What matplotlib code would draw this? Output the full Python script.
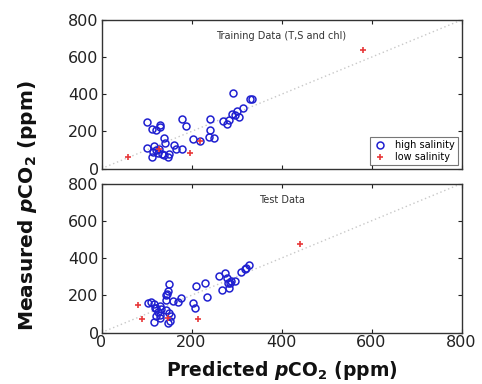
import matplotlib
matplotlib.use("Agg")
import matplotlib.pyplot as plt

# ---- data ----
train_high_x = [101, 112, 122, 129, 131, 179, 187, 138, 140, 100, 116, 112, 114, 128, 134,
                139, 148, 151, 162, 166, 179, 203, 218, 241, 241, 238, 249, 269, 278, 284,
                293, 291, 302, 306, 315, 330, 334, 122, 126, 297]
train_high_y = [252, 211, 209, 236, 223, 268, 228, 163, 140, 110, 119, 62, 88, 106, 79,
                74, 60, 79, 128, 106, 106, 160, 151, 268, 208, 169, 162, 256, 241, 259,
                405, 295, 308, 278, 326, 373, 375, 101, 82, 286]
train_low_x = [59, 127, 197, 218, 581]
train_low_y = [62, 103, 83, 151, 641]

test_high_x = [151, 148, 146, 143, 104, 111, 116, 122, 129, 133, 126, 120, 116, 129, 143,
               151, 155, 153, 159, 170, 177, 204, 207, 209, 229, 235, 260, 274, 268, 280,
               284, 288, 297, 310, 321, 328, 148, 131, 118, 278, 286, 319, 143]
test_high_y = [261, 222, 209, 177, 159, 163, 154, 133, 141, 124, 109, 88, 55, 79, 120,
               106, 88, 64, 168, 163, 186, 159, 133, 252, 267, 190, 306, 320, 231, 267,
               240, 276, 276, 324, 347, 365, 50, 95, 131, 292, 265, 341, 203]
test_low_x = [81, 89, 148, 214, 440]
test_low_y = [150, 74, 77, 74, 477]

ticks = [0, 200, 400, 600, 800]
panel_titles = ["Training Data (T,S and chl)", "Test Data"]

plt.rcParams['font.family'] = ['DejaVu Sans']
plt.rcParams['mathtext.fontset'] = 'dejavusans'

fig = plt.figure(figsize=(4.82, 3.84), dpi=100)
ax1 = fig.add_axes([0.2106, 0.561, 0.747, 0.387])
ax2 = fig.add_axes([0.2106, 0.134, 0.747, 0.388])

datasets = [(ax1, train_high_x, train_high_y, train_low_x, train_low_y, panel_titles[0]),
            (ax2, test_high_x, test_high_y, test_low_x, test_low_y, panel_titles[1])]

for ax, hx, hy, lx, ly, title in datasets:
    ax.plot([0, 800], [0, 800], linestyle=(0, (1, 2)), color='#c8c8c8', lw=1, zorder=1)
    ax.plot(hx, hy, linestyle='none', marker='o', markersize=5, markerfacecolor='none',
            markeredgecolor='#2020d0', markeredgewidth=1.1, label='high salinity', zorder=3)
    ax.plot(lx, ly, linestyle='none', marker='+', markersize=5, color='#e8383a',
            markeredgewidth=1.2, label='low salinity', zorder=4)
    ax.set_xlim(0, 800)
    ax.set_ylim(0, 800)
    ax.set_xticks(ticks)
    ax.set_yticks(ticks)
    ax.tick_params(direction='in', top=True, right=True, length=3, width=0.8,
                   labelsize=11.5, colors='#222222', pad=2)
    for s in ax.spines.values():
        s.set_color('#333333')
        s.set_linewidth(1.0)
    ax.text(0.5, 0.89, title, transform=ax.transAxes, ha='center', va='center',
            fontsize=7, color='#333333')

ax1.set_xticklabels([])
ax2.set_xticklabels([str(t) for t in ticks])

leg = ax1.legend(loc='lower right', fontsize=7, frameon=True, fancybox=False,
                 borderaxespad=0.35, handletextpad=0.8, borderpad=0.3,
                 labelspacing=0.2, handlelength=1.5)
leg.get_frame().set_edgecolor('#555555')
leg.get_frame().set_linewidth(0.8)

fig.text(0.584, 0.035, r'Predicted $\mathbfit{p}\mathbf{CO}_\mathbf{2}$ (ppm)',
         ha='center', va='center', fontsize=13.5, fontweight='bold', color='#111111')
fig.text(0.058, 0.465, r'Measured $\mathbfit{p}\mathbf{CO}_\mathbf{2}$ (ppm)',
         ha='center', va='center', rotation=90, fontsize=14.5, fontweight='bold',
         color='#111111')

fig.savefig('out.png', dpi=100)
